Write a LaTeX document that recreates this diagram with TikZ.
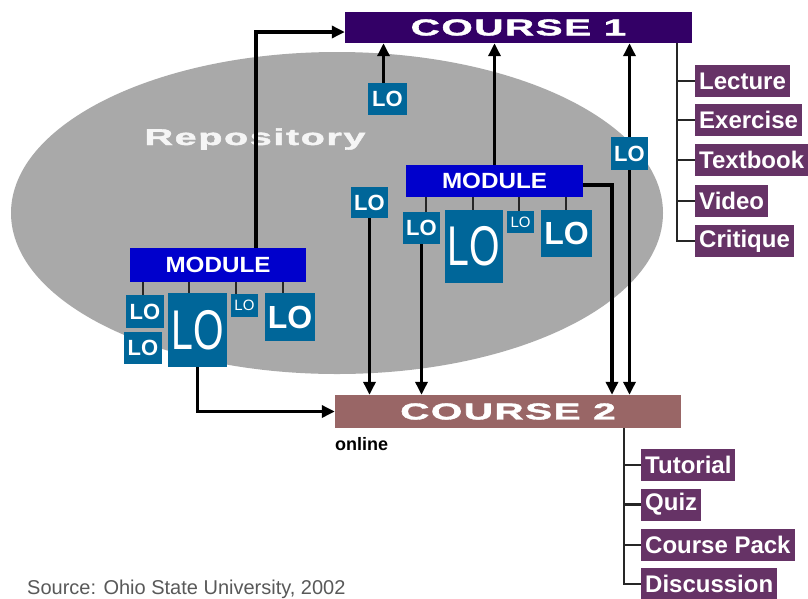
\documentclass[tikz,border=0pt]{standalone}
\usepackage{fontspec}
\usepackage{graphicx}
\setmainfont{Liberation Sans}
\newfontfamily\widefont{Liberation Sans}[LetterSpace=4,FakeBold=1.5]
\usetikzlibrary{arrows.meta,calc}

\definecolor{courseone}{HTML}{330066}
\definecolor{coursetwo}{HTML}{996666}
\definecolor{itemfill}{HTML}{663366}
\definecolor{modfill}{HTML}{0000CC}
\definecolor{lofill}{HTML}{006699}
\definecolor{repofill}{HTML}{A9A9A9}

\newcommand\fsz[1]{\fontsize{#1}{#1}\selectfont}

\tikzset{
  bar/.style={inner sep=0pt, text=white},
  lobox/.style={fill=lofill, text=white, inner sep=0pt, font=\bfseries\fsz{22}},
  item/.style={fill=itemfill, text=white, anchor=west, inner xsep=4pt,
    inner ysep=0pt, minimum height=32pt, font=\bfseries\fsz{24}},
  arr/.style={line width=3.5pt, draw=black, -{Triangle[length=13pt,width=12pt]}},
  link/.style={line width=2.5pt, draw=black!85}
}

\begin{document}
\begin{tikzpicture}[x=1pt,y=-1pt]
\useasboundingbox (0,0) rectangle (808,598);
\clip (0,0) rectangle (808,598);
\fill[white] (0,0) rectangle (808,598);

% repository
\fill[repofill] (337,213) ellipse [x radius=326pt, y radius=161pt];
\node[anchor=base, text=white!96!black, inner sep=0pt] (repo) at (255,145)
  {\widefont\bfseries\fsz{23}\scalebox{1.72}[1]{Repository}};

% courses
\node[bar, fill=courseone, minimum width=347pt, minimum height=31pt] (course1) at (518.5,27.5)
  {\widefont\bfseries\fsz{23}\scalebox{1.75}[1]{COURSE 1}};
\node[bar, fill=coursetwo, minimum width=346pt, minimum height=33pt] (course2) at (508,411.5)
  {\widefont\bfseries\fsz{23}\scalebox{1.75}[1]{COURSE 2}};
\node[anchor=base west, inner sep=0pt, font=\bfseries\fsz{18}] (online) at (335,450) {online};

% course 1 components
\node[item] (lecture) at (695,81) {Lecture};
\node[item] (exercise) at (695,120) {Exercise};
\node[item] (textbook) at (695,160) {Textbook};
\node[item] (video) at (695,201) {Video};
\node[item] (critique) at (695,241) {Critique};

% course 2 components
\node[item] (tutorial) at (641,465) {Tutorial};
\node[item] (quiz) at (641,504.5) {Quiz};
\node[item] (coursepack) at (641,545) {Course Pack};
\node[item] (discussion) at (641,584) {Discussion};

% loose learning objects
\node[lobox, minimum width=39pt, minimum height=32pt] (loTop) at (387.5,99) {LO};
\node[lobox, minimum width=37pt, minimum height=33pt] (loRight) at (629.5,153.5) {LO};
\node[lobox, minimum width=37pt, minimum height=31pt] (loMid) at (369.5,202.5) {LO};

% module 2 and its learning objects
\node[bar, fill=modfill, minimum width=177pt, minimum height=32pt] (module2) at (494.5,181)
  {\bfseries\fsz{22}\scalebox{1.1}[1]{MODULE}};
\node[lobox, minimum width=37pt, minimum height=32pt] (m2a) at (421.5,228) {LO};
\node[lobox, minimum width=58pt, minimum height=73pt, font=\fsz{56}] (m2big) at (474,246.5)
  {\scalebox{0.7}[1]{LO}};
\node[lobox, minimum width=27pt, minimum height=22pt, font=\fsz{15}] (m2small) at (520.5,222) {LO};
\node[lobox, minimum width=51pt, minimum height=47pt, font=\bfseries\fsz{32}] (m2d) at (566.5,233.5) {LO};

% module 1 and its learning objects
\node[bar, fill=modfill, minimum width=176pt, minimum height=34pt] (module1) at (218,265)
  {\bfseries\fsz{22}\scalebox{1.1}[1]{MODULE}};
\node[lobox, minimum width=38pt, minimum height=33pt] (m1a) at (145,311.5) {LO};
\node[lobox, minimum width=38pt, minimum height=32pt] (m1b) at (143,348) {LO};
\node[lobox, minimum width=59pt, minimum height=74pt, font=\fsz{56}] (m1big) at (197.5,330)
  {\scalebox{0.7}[1]{LO}};
\node[lobox, minimum width=27pt, minimum height=23pt, font=\fsz{15}] (m1small) at (244.5,305.5) {LO};
\node[lobox, minimum width=50pt, minimum height=48pt, font=\bfseries\fsz{32}] (m1d) at (290,317) {LO};

% module links
\foreach \dx/\t in {13/m1a, 59/m1big, 106/m1small, 153/m1d}
  \draw[link] ($(module1.south west)+(\dx,0)$) coordinate (c) -- (c |- \t.north);
\foreach \dx/\t in {20/m2a, 67/m2big, 113/m2small, 160/m2d}
  \draw[link] ($(module2.south west)+(\dx,0)$) coordinate (c) -- (c |- \t.north);

% component arms
\coordinate (armone) at ($(course1.south)+(158.5,0)$);
\foreach \t in {lecture,exercise,textbook,video,critique}
  \draw[link] (armone) |- (\t.west);
\coordinate (armtwo) at ($(course2.south)+(116,0)$);
\foreach \t in {tutorial,quiz,coursepack,discussion}
  \draw[link] (armtwo) |- (\t.west);

% flows into course 1
\draw[arr] ($(module1.north west)+(126,0)$) |- ([yshift=-4.5pt]course1.west);
\draw[arr] ($(loTop.north)+(-4,0)$) coordinate (c) -- (c |- course1.south);
\draw[arr] (module2.north) -- (module2.north |- course1.south);
\draw[arr] (loRight.north) -- (loRight.north |- course1.south);

% flows into course 2
\draw[arr] (loRight.south) -- (loRight.south |- course2.north);
\draw[arr] (loMid.south) -- (loMid.south |- course2.north);
\draw[arr] (m2a.south) -- (m2a.south |- course2.north);
\draw[arr] ($(module2.east)+(0,4)$) -| ($(course2.north)+(104,0)$);
\draw[arr] (m1big.south) |- (course2.west);

% source line
\node[anchor=base west, inner sep=0pt, text=black!65, font=\fsz{20}] (source) at (27,594)
  {Source: Ohio State University, 2002};
\end{tikzpicture}
\end{document}
